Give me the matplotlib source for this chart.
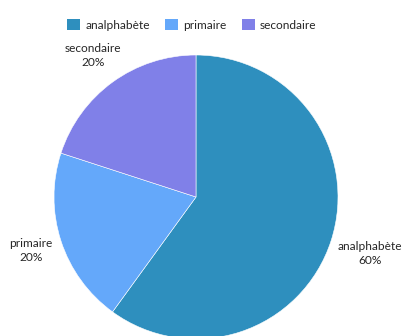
import matplotlib.pyplot as plt
import matplotlib.patches as mpatches
import numpy as np

categories = ["analphabète", "primaire", "secondaire"]
values = [60, 20, 20]
colors = ["#2E8FBE", "#64A8FA", "#8080E8"]

plt.rcParams["font.family"] = ["Lato", "DejaVu Sans"]
text_color = "#262626"

W, H = 404, 336
fig = plt.figure(figsize=(W / 100, H / 100), dpi=100)
ax = fig.add_axes([0, 0, 1, 1])

cx, cy, r = 196, H - 197, 142
wedges, _ = ax.pie(
    values,
    colors=colors,
    startangle=90,
    counterclock=False,
    center=(cx, cy),
    radius=r,
    wedgeprops={"edgecolor": "white", "linewidth": 0.4},
    frame=True,
)
ax.set_xlim(0, W)
ax.set_ylim(0, H)
ax.set_aspect("equal")
ax.axis("off")

# labels outside the slices
dists = [1.29, 1.22, 1.23]
for w, cat, v, d in zip(wedges, categories, values, dists):
    ang = np.deg2rad((w.theta1 + w.theta2) / 2)
    x = cx + r * d * np.cos(ang)
    y = cy + r * d * np.sin(ang)
    ax.text(x, y, f"{cat}\n{v}%", ha="center", va="center", fontsize=8.6,
            color=text_color, linespacing=1.35)

handles = [mpatches.Patch(facecolor=c, label=l) for c, l in zip(colors, categories)]
fig.legend(handles=handles, loc="center", bbox_to_anchor=(0.475, 0.925), ncol=3,
           frameon=False, fontsize=8.6, handlelength=1.05, handleheight=1.05,
           handletextpad=0.45, columnspacing=1.3, labelcolor=text_color)

fig.savefig("out.png", dpi=100)
